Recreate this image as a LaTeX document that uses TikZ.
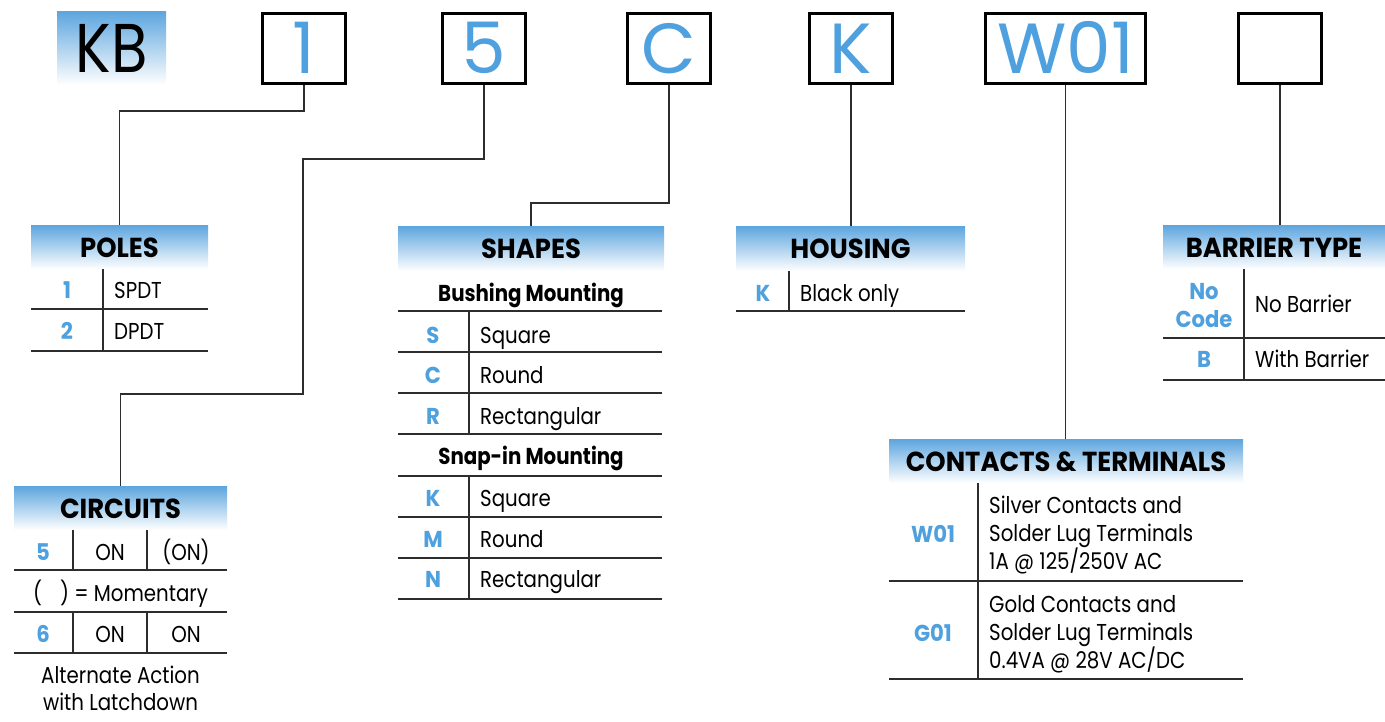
\documentclass[tikz,border=0pt]{standalone}
\usepackage{fontspec}
\setmainfont[FakeStretch=0.86]{Poppins}
\newfontfamily\hdrfam[FakeStretch=0.94]{Poppins}
\newfontfamily\bigfam{Poppins}
\newfontfamily\kbfam[FakeStretch=0.86]{Poppins}
\newfontfamily\codefam[FakeStretch=0.92]{Poppins}
\definecolor{codeblue}{RGB}{78,160,222}
\definecolor{hdrblue}{RGB}{92,165,222}
\definecolor{rulegray}{RGB}{45,45,45}
\newcommand{\bigfnt}{\bigfam\fontsize{71}{71}\selectfont}
\newcommand{\kbfnt}{\kbfam\fontsize{69}{69}\selectfont}
\newcommand{\hdrfnt}{\hdrfam\fontsize{27.5}{28}\selectfont\bfseries}
\newcommand{\bodyfnt}{\fontsize{23}{27}\selectfont}
\newcommand{\codefnt}{\codefam\fontsize{23}{27}\selectfont\bfseries}
\newcommand{\subfnt}{\fontsize{23}{27}\selectfont\bfseries}
\begin{document}
\begin{tikzpicture}[x=1pt,y=-1pt,
  codebox/.style={draw=black, line width=3.2pt, minimum width=83pt, minimum height=70pt,
    inner sep=0pt, text height=50pt, text depth=0pt, text=codeblue, font=\bigfnt},
  hdr/.style={top color=hdrblue, bottom color=white, inner sep=0pt, font=\hdrfnt,
    text height=20pt, text depth=0pt},
  conn/.style={draw=rulegray, line width=1.5pt},
  trule/.style={draw=rulegray, line width=1.5pt},
  code/.style={anchor=base, text=codeblue, font=\codefnt, inner sep=0pt},
  txt/.style={anchor=base west, font=\bodyfnt, inner sep=0pt},
  ctr/.style={anchor=base, font=\bodyfnt, inner sep=0pt},
  sub/.style={anchor=base, font=\subfnt, inner sep=0pt}]
\useasboundingbox (0,0) rectangle (1385,721);
\fill[white] (0,0) rectangle (1385,721);

% top code boxes
\node[top color=hdrblue, bottom color=white, minimum width=109pt, minimum height=74pt,
  inner sep=0pt, text height=49pt, text depth=0pt, font=\kbfnt] (kb) at (111.5,48) {KB};
\node[codebox] (b1) at (304,48.5) {1};
\node[codebox] (b5) at (484,48.5) {5};
\node[codebox] (bc) at (669,48.5) {C};
\node[codebox] (bk) at (851,48.5) {K};
\node[codebox, minimum width=160pt] (bw) at (1065.5,48.5) {W01};
\node[codebox] (be) at (1280,48.5) {};

% headers
\node[hdr, minimum width=177pt, minimum height=44pt] (poles) at (119.5,247) {POLES};
\node[hdr, minimum width=213pt, minimum height=44pt] (circ) at (120.5,508) {CIRCUITS};
\node[hdr, minimum width=266pt, minimum height=45pt] (shapes) at (531,248.5) {SHAPES};
\node[hdr, minimum width=229pt, minimum height=45pt] (housing) at (850.5,248.5) {HOUSING};
\node[hdr, minimum width=354pt, minimum height=44pt] (contacts) at (1066,461) {CONTACTS \& TERMINALS};
\node[hdr, minimum width=222pt, minimum height=44pt] (barrier) at (1274,247) {BARRIER TYPE};

% connectors
\coordinate (c1) at (304,111);
\coordinate (c5a) at (484,159);
\coordinate (c5b) at (303,394);
\coordinate (cc) at (669,203);
\coordinate (ce) at (1280,225);
\draw[conn] (b1.south) -- (c1) -| (poles.north);
\draw[conn] (b5.south) -- (c5a) -| (c5b) -| (circ.north);
\draw[conn] (bc.south) -- (cc) -| (shapes.north);
\draw[conn] (bk.south) -- (bk.south |- housing.north);
\draw[conn] (bw.south) -- (bw.south |- contacts.north);
\draw[conn] (be.south) -- (ce);

% POLES table
\draw[trule] (103,269) -- (103,351);
\draw[trule] (31,309) -- (208,309) (31,351) -- (208,351);
\node[code] (p1) at (67,298) {1};
\node[txt] (p1t) at (114,298) {SPDT};
\node[code] (p2) at (67,339) {2};
\node[txt] (p2t) at (114,339) {DPDT};

% CIRCUITS table
\draw[trule] (14,570) -- (227,570) (14,612) -- (227,612) (14,653) -- (227,653);
\draw[trule] (73,530) -- (73,570) (147,530) -- (147,570);
\draw[trule] (73,612) -- (73,653) (147,612) -- (147,653);
\node[code] (c5) at (43,560) {5};
\node[ctr] (c5on) at (110,560) {ON};
\node[ctr] (c5mon) at (186,560) {(ON)};
\node[ctr] (cmom) at (120.5,601) {(\hspace{18pt}) = Momentary};
\node[code] (c6) at (43,642) {6};
\node[ctr] (c6on) at (110,642) {ON};
\node[ctr] (c6on2) at (186,642) {ON};
\node[ctr] (calt1) at (120.5,683) {Alternate Action};
\node[ctr] (calt2) at (120.5,710) {with Latchdown};

% SHAPES table
\draw[trule] (398,311) -- (662,311) (398,352) -- (662,352) (398,393) -- (662,393) (398,434) -- (662,434);
\draw[trule] (398,476) -- (662,476) (398,517) -- (662,517) (398,558) -- (662,558) (398,599) -- (662,599);
\draw[trule] (469,311) -- (469,434) (469,476) -- (469,599);
\node[sub] (bush) at (531,301) {Bushing Mounting};
\node[code] (sS) at (433,343) {S};
\node[txt] (sSt) at (480,343) {Square};
\node[code] (sC) at (433,383) {C};
\node[txt] (sCt) at (480,383) {Round};
\node[code] (sR) at (433,424) {R};
\node[txt] (sRt) at (480,424) {Rectangular};
\node[sub] (snap) at (531,464) {Snap-in Mounting};
\node[code] (sK) at (433,506) {K};
\node[txt] (sKt) at (480,506) {Square};
\node[code] (sM) at (433,547) {M};
\node[txt] (sMt) at (480,547) {Round};
\node[code] (sN) at (433,587) {N};
\node[txt] (sNt) at (480,587) {Rectangular};

% HOUSING table
\draw[trule] (789,271) -- (789,311);
\draw[trule] (736,311) -- (965,311);
\node[code] (hK) at (763,301) {K};
\node[txt] (hKt) at (800,301) {Black only};

% CONTACTS table
\draw[trule] (978,483) -- (978,680);
\draw[trule] (889,581) -- (1243,581) (889,679) -- (1243,679);
\node[code] (w01) at (933,542) {W01};
\node[txt] (w1) at (989,513) {Silver Contacts and};
\node[txt] (w2) at (989,541) {Solder Lug Terminals};
\node[txt] (w3) at (989,569) {1A @ 125/250V AC};
\node[code] (g01) at (933,641) {G01};
\node[txt] (g1) at (989,612) {Gold Contacts and};
\node[txt] (g2) at (989,640) {Solder Lug Terminals};
\node[txt] (g3) at (989,668) {0.4VA @ 28V AC/DC};

% BARRIER table
\draw[trule] (1244,269) -- (1244,380);
\draw[trule] (1163,338) -- (1385,338) (1163,380) -- (1385,380);
\node[code] (bno) at (1204,299) {No};
\node[code] (bcode) at (1204,327) {Code};
\node[txt] (bnot) at (1255,312) {No Barrier};
\node[code] (bB) at (1204,367) {B};
\node[txt] (bBt) at (1255,367) {With Barrier};
\end{tikzpicture}
\end{document}
